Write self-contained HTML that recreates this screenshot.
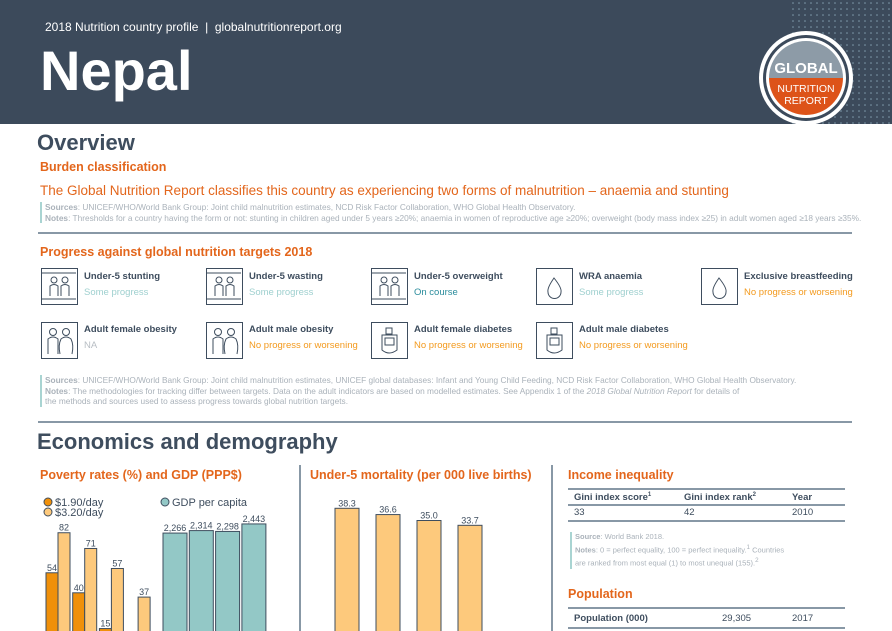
<!DOCTYPE html>
<html><head><meta charset="utf-8"><style>
body{margin:0;width:892px;height:631px;overflow:hidden;background:#fff;font-family:"Liberation Sans",sans-serif;position:relative}
.a{position:absolute;white-space:nowrap}
.or{color:#e3661c}
.h2{font-size:22px;font-weight:bold;color:#3e4d5e}
.sec{font-size:12.5px;font-weight:bold;color:#e3661c}
.src{font-size:8.3px;color:#aab2ba;line-height:10.5px;border-left:2px solid #a9d4d2;padding-left:3px}
.ic{position:absolute;width:37px;height:37px;border:1.5px solid #3e4d5e;box-sizing:border-box}
.ic svg{position:absolute;left:0;top:0}
.t{font-size:9.5px;font-weight:bold;color:#3e4d5e}
.s{font-size:9.5px}
</style></head><body>
<div style="position:absolute;left:0;top:0;width:892px;height:124px;background:#3c4a5b"></div>
<svg class="a" style="left:790px;top:0" width="102" height="124">
<defs><pattern id="p" width="6" height="6" patternUnits="userSpaceOnUse"><circle cx="3" cy="3" r="0.8" fill="#7f9bab"/></pattern></defs>
<rect width="102" height="124" fill="url(#p)"/></svg>
<div class="a" style="left:45px;top:20px;font-size:12px;color:#fff">2018 Nutrition country profile &nbsp;|&nbsp; globalnutritionreport.org</div>
<div class="a" style="left:40px;top:38px;font-size:56px;font-weight:bold;color:#fff">Nepal</div>
<svg class="a" style="left:757px;top:29px" width="98" height="98">
<circle cx="49" cy="49" r="47" fill="#fff"/><circle cx="49" cy="49" r="43" fill="#3c4a5b"/><circle cx="49" cy="49" r="40" fill="#fff"/>
<path d="M12 49 A37 37 0 0 1 86 49Z" fill="#8d9ba7"/><path d="M12 49 A37 37 0 0 0 86 49Z" fill="#dd5319"/>
<text x="49" y="44" text-anchor="middle" font-size="15" font-weight="bold" fill="#fff" font-family="Liberation Sans">GLOBAL</text>
<text x="49" y="63" text-anchor="middle" font-size="10.5" fill="#fff" font-family="Liberation Sans">NUTRITION</text>
<text x="49" y="75" text-anchor="middle" font-size="10.5" fill="#fff" font-family="Liberation Sans">REPORT</text></svg>

<div class="a h2" style="left:37px;top:130px">Overview</div>
<div class="a sec" style="left:40px;top:160px">Burden classification</div>
<div class="a or" style="left:40px;top:183px;font-size:13.5px">The Global Nutrition Report classifies this country as experiencing two forms of malnutrition – anaemia and stunting</div>
<div class="a src" style="left:40px;top:202px"><b>Sources</b>: UNICEF/WHO/World Bank Group: Joint child malnutrition estimates, NCD Risk Factor Collaboration, WHO Global Health Observatory.<br><b>Notes</b>: Thresholds for a country having the form or not: stunting in children aged under 5 years ≥20%; anaemia in women of reproductive age ≥20%; overweight (body mass index ≥25) in adult women aged ≥18 years ≥35%.</div>
<div class="a" style="left:38px;top:232px;width:814px;height:2px;background:#8898a6"></div>
<div class="a sec" style="left:40px;top:245px">Progress against global nutrition targets 2018</div>

<div class="ic kid" style="left:41px;top:268px"></div>
<div class="a t" style="left:84px;top:271px">Under-5 stunting</div>
<div class="a s" style="left:84px;top:287px;color:#9fd0cf">Some progress</div>
<div class="ic kid" style="left:206px;top:268px"></div>
<div class="a t" style="left:249px;top:271px">Under-5 wasting</div>
<div class="a s" style="left:249px;top:287px;color:#9fd0cf">Some progress</div>
<div class="ic kid" style="left:371px;top:268px"></div>
<div class="a t" style="left:414px;top:271px">Under-5 overweight</div>
<div class="a s" style="left:414px;top:287px;color:#2a8c9c">On course</div>
<div class="ic drop" style="left:536px;top:268px"></div>
<div class="a t" style="left:579px;top:271px">WRA anaemia</div>
<div class="a s" style="left:579px;top:287px;color:#9fd0cf">Some progress</div>
<div class="ic drop" style="left:701px;top:268px"></div>
<div class="a t" style="left:744px;top:271px">Exclusive breastfeeding</div>
<div class="a s" style="left:744px;top:287px;color:#f39a1e">No progress or worsening</div>

<div class="ic adult" style="left:41px;top:322px"></div>
<div class="a t" style="left:84px;top:324px">Adult female obesity</div>
<div class="a s" style="left:84px;top:340px;color:#b8bec4">NA</div>
<div class="ic adult" style="left:206px;top:322px"></div>
<div class="a t" style="left:249px;top:324px">Adult male obesity</div>
<div class="a s" style="left:249px;top:340px;color:#f39a1e">No progress or worsening</div>
<div class="ic meter" style="left:371px;top:322px"></div>
<div class="a t" style="left:414px;top:324px">Adult female diabetes</div>
<div class="a s" style="left:414px;top:340px;color:#f39a1e">No progress or worsening</div>
<div class="ic meter" style="left:536px;top:322px"></div>
<div class="a t" style="left:579px;top:324px">Adult male diabetes</div>
<div class="a s" style="left:579px;top:340px;color:#f39a1e">No progress or worsening</div>

<div class="a src" style="left:40px;top:375px"><b>Sources</b>: UNICEF/WHO/World Bank Group: Joint child malnutrition estimates, UNICEF global databases: Infant and Young Child Feeding, NCD Risk Factor Collaboration, WHO Global Health Observatory.<br><b>Notes</b>: The methodologies for tracking differ between targets. Data on the adult indicators are based on modelled estimates. See Appendix 1 of the <i>2018 Global Nutrition Report</i> for details of<br>the methods and sources used to assess progress towards global nutrition targets.</div>
<div class="a" style="left:38px;top:421px;width:814px;height:2px;background:#8898a6"></div>
<div class="a h2" style="left:37px;top:429px">Economics and demography</div>
<div class="a" style="left:299px;top:465px;width:2px;height:166px;background:#8898a6"></div>
<div class="a" style="left:551px;top:465px;width:2px;height:166px;background:#8898a6"></div>

<div class="a sec" style="left:40px;top:468px">Poverty rates (%) and GDP (PPP$)</div>
<div class="a sec" style="left:310px;top:468px">Under-5 mortality (per 000 live births)</div>
<svg class="a" style="left:0;top:480px" width="560" height="151" id="ch">
<circle cx="48" cy="22" r="4" fill="#f0900a" stroke="#3e4d5e"/><text x="55" y="26" font-size="11" fill="#3e4d5e">$1.90/day</text>
<circle cx="48" cy="32" r="4" fill="#fdc97c" stroke="#3e4d5e"/><text x="55" y="36" font-size="11" fill="#3e4d5e">$3.20/day</text>
<circle cx="165" cy="22" r="4" fill="#93c8c6" stroke="#3e4d5e"/><text x="172" y="26" font-size="11" fill="#3e4d5e">GDP per capita</text>
</svg>
<script>
const povLow=[54,40,15,null];
const povHigh=[82,71,57,37];
const gdp=[2266,2314,2298,2443];
const gdpLabels=["2,266","2,314","2,298","2,443"];
const mort=[38.3,36.6,35.0,33.7];
const ns="http://www.w3.org/2000/svg",svg=document.getElementById('ch');
const base=170;
const yPov=v=>base-v*1.43, yGdp=v=>base-v*0.0516, yMort=v=>base-v*3.7;
function bar(x,w,y,fill,lab,name){
 const r=document.createElementNS(ns,'rect');
 r.setAttribute('x',x);r.setAttribute('y',y);r.setAttribute('width',w);r.setAttribute('height',base-y);
 r.setAttribute('fill',fill);r.setAttribute('stroke','#3e4d5e');r.setAttribute('stroke-width','1');
 
 
 svg.appendChild(r);
 const t=document.createElementNS(ns,'text');
 t.setAttribute('x',x+w/2);t.setAttribute('y',y-2);t.setAttribute('text-anchor','middle');
 t.setAttribute('font-size','9');t.setAttribute('fill','#3e4d5e');t.textContent=lab;
 
 
 svg.appendChild(t);
}
povHigh.forEach((v,i)=>{
 const x=46+i*26.7;
 if(povLow[i]!=null) bar(x,12,yPov(povLow[i]),'#f0900a',String(povLow[i]),'bar-190-'+i);
 bar(x+12,12,yPov(v),'#fdc97c',String(v),'bar-320-'+i);
});
gdp.forEach((v,i)=>bar(163+i*26.3,24,yGdp(v),'#93c8c6',gdpLabels[i],'bar-gdp-'+i));
mort.forEach((v,i)=>bar(335+i*41,24,yMort(v),'#fdc97c',v.toFixed(1),'bar-mortality-'+i));
const st='fill="none" stroke="#3e4d5e" stroke-width="1"';
const icons={
 kid:'<line x1="0" y1="4" x2="36" y2="4" '+st+'/><line x1="0" y1="30" x2="36" y2="30" '+st+'/><circle cx="12" cy="11" r="3" '+st+'/><path d="M8 27 V17 Q12 14 16 17 V27" '+st+'/><circle cx="23" cy="11" r="3" '+st+'/><path d="M19 27 V17 Q23 14 27 17 V27" '+st+'/>',
 adult:'<circle cx="11" cy="9" r="3.5" '+st+'/><path d="M6 31 V16 Q11 12 16 16 V31" '+st+'/><circle cx="24" cy="9" r="3.5" '+st+'/><path d="M18 31 Q16 22 19 16 Q24 12 29 16 Q32 22 30 31" '+st+'/>',
 drop:'<path d="M17 9 Q10 19 11 23 A6.5 6.5 0 0 0 24 23 Q25 19 17 9Z" '+st+'/>',
 meter:'<rect x="14" y="5" width="6" height="6" '+st+'/><path d="M10 12 H25 V27 Q17 33 10 27Z" '+st+'/><rect x="13" y="15" width="9" height="7" '+st+'/>'
};
document.querySelectorAll('.ic').forEach(el=>{
 const k=['kid','adult','drop','meter'].find(c=>el.classList.contains(c));
 el.innerHTML='<svg width="34" height="34">'+icons[k]+'</svg>';
});
</script>

<div class="a sec" style="left:568px;top:468px">Income inequality</div>
<div class="a" style="left:568px;top:488px;width:277px;font-size:9.5px;color:#3e4d5e">
<div style="border-top:2px solid #8898a6;border-bottom:2px solid #8898a6;height:14px;position:relative;font-weight:bold">
<span class="a" style="left:6px;top:2px">Gini index score<sup style="font-size:6px">1</sup></span><span class="a" style="left:116px;top:2px">Gini index rank<sup style="font-size:6px">2</sup></span><span class="a" style="left:224px;top:2px">Year</span></div>
<div style="border-bottom:2px solid #8898a6;height:14px;position:relative">
<span class="a" style="left:6px;top:1px">33</span><span class="a" style="left:116px;top:1px">42</span><span class="a" style="left:224px;top:1px">2010</span></div></div>
<div class="a src" style="left:570px;top:532px;font-size:7.5px"><b>Source</b>: World Bank 2018.<br><b>Notes</b>: 0 = perfect equality, 100 = perfect inequality.<sup>1</sup> Countries<br>are ranked from most equal (1) to most unequal (155).<sup>2</sup></div>
<div class="a sec" style="left:568px;top:587px">Population</div>
<div class="a" style="left:568px;top:607px;width:277px;height:18px;border-top:2px solid #8898a6;border-bottom:2px solid #8898a6;font-size:9.5px;color:#3e4d5e">
<span class="a" style="left:6px;top:4px;font-weight:bold">Population (000)</span><span class="a" style="left:154px;top:4px">29,305</span><span class="a" style="left:224px;top:4px">2017</span></div>
</body></html>
